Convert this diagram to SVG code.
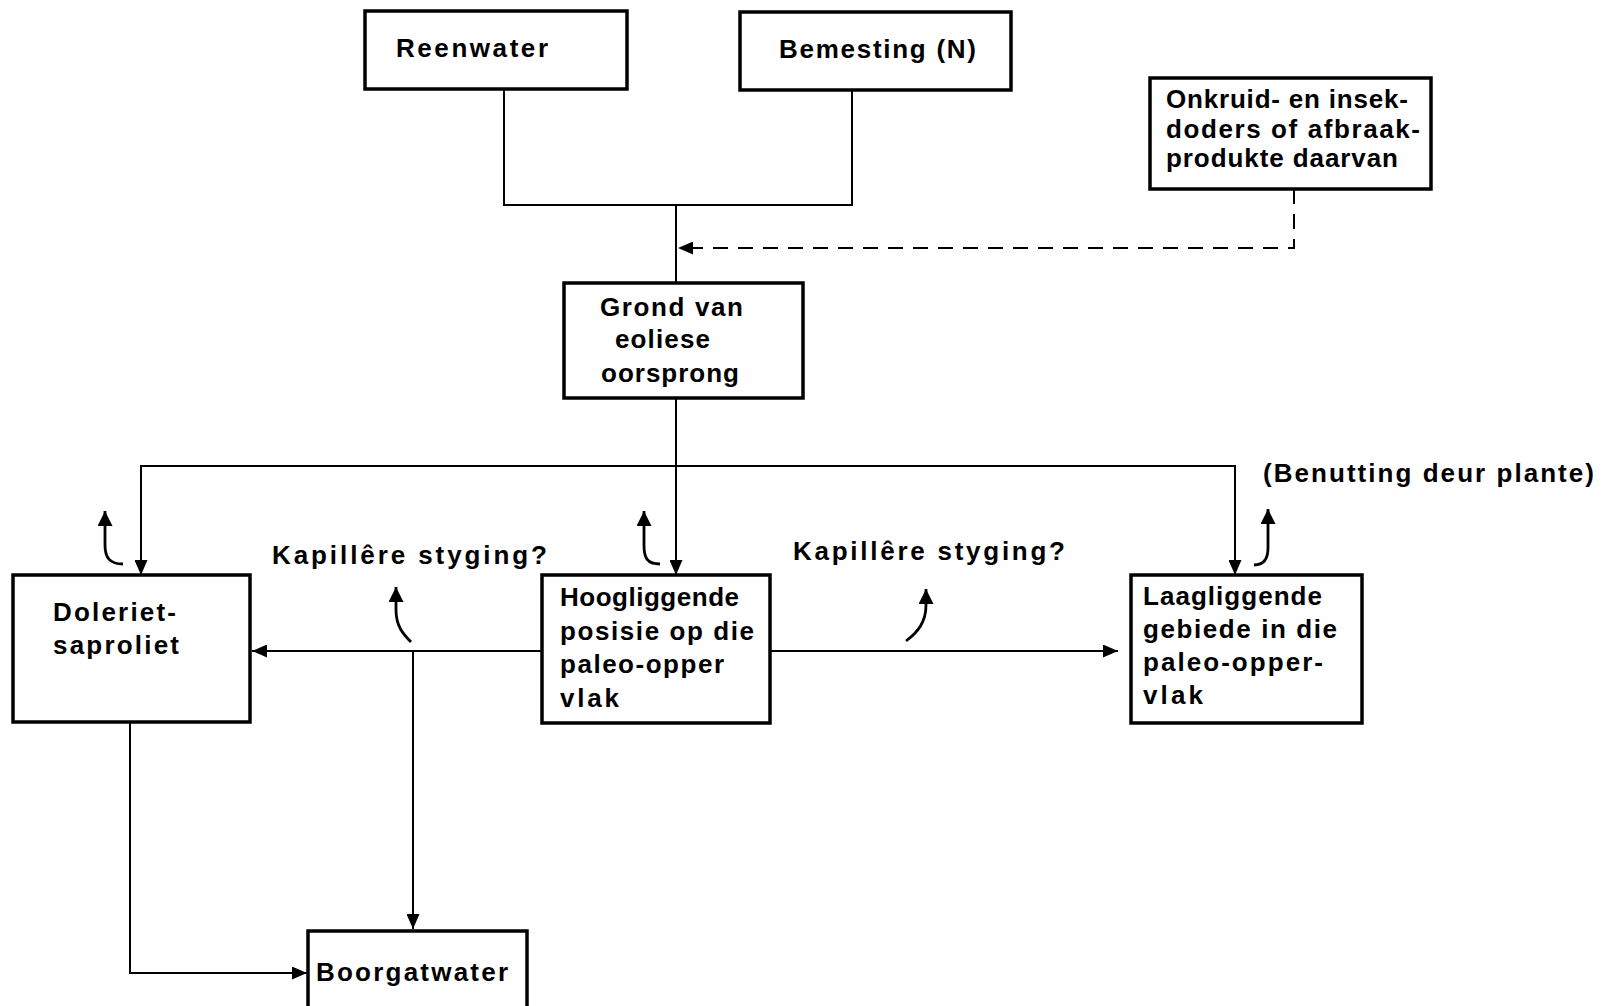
<svg xmlns="http://www.w3.org/2000/svg" width="1602" height="1006" viewBox="0 0 1602 1006">
<style>
.box{fill:#fff;stroke:#000;stroke-width:3.5}
.t{font-family:"Liberation Sans",Arial,sans-serif;font-weight:bold;font-size:26px;fill:#000}
.c{fill:none;stroke:#000;stroke-width:2}
.d{fill:none;stroke:#000;stroke-width:2;stroke-dasharray:15 10}
.k{fill:none;stroke:#000;stroke-width:2.8}
</style>
<defs>
<marker id="ah" viewBox="0 0 15 13" refX="15" refY="6.5" markerWidth="15" markerHeight="13" markerUnits="userSpaceOnUse" orient="auto">
<path d="M0,0 L15,6.5 L0,13 Z" fill="#000"/>
</marker>
<marker id="ak" viewBox="0 0 15 15" refX="15" refY="7.5" markerWidth="15" markerHeight="15" markerUnits="userSpaceOnUse" orient="auto">
<path d="M0,0 L15,7.5 L0,15 Z" fill="#000"/>
</marker>
</defs>
<rect width="1602" height="1006" fill="#fff"/>
<g id="connectors">
<path class="c" d="M504,89 V205 H852 V90"/>
<path class="c" d="M676,205 V283"/>
<path class="d" d="M1294,189 V248 H678" marker-end="url(#ah)"/>
<path class="c" d="M676,398 V575" marker-end="url(#ah)"/>
<path class="c" d="M676,466 H141 V575" marker-end="url(#ah)"/>
<path class="c" d="M676,466 H1235 V575" marker-end="url(#ah)"/>
<path class="c" d="M542,651 H252" marker-end="url(#ah)"/>
<path class="c" d="M413,651 V929" marker-end="url(#ah)"/>
<path class="c" d="M770,651 H1118" marker-end="url(#ah)"/>
<path class="c" d="M130,722 V973 H307" marker-end="url(#ah)"/>
<path class="k" d="M123,564 C110,564 105,558 105,545 V511" marker-end="url(#ak)"/>
<path class="k" d="M660,564 C647,564 644,558 644,545 V511" marker-end="url(#ak)"/>
<path class="k" d="M411,642 C403,634 396,626 396,610 V587" marker-end="url(#ak)"/>
<path class="k" d="M906,641 C918,632 926,622 926,605 V589" marker-end="url(#ak)"/>
<path class="k" d="M1254,565 C1264,565 1268,558 1268,548 V509" marker-end="url(#ak)"/>
</g>
<g id="reenwater">
<rect class="box" x="365" y="11" width="262" height="78"/>
<text class="t" x="396" y="57" textLength="152" lengthAdjust="spacing">Reenwater</text>
</g>
<g id="bemesting">
<rect class="box" x="740" y="12" width="271" height="78"/>
<text class="t" x="779" y="58" textLength="197" lengthAdjust="spacing">Bemesting (N)</text>
</g>
<g id="onkruid">
<rect class="box" x="1150" y="78" width="281" height="111"/>
<text class="t" x="1166" y="108" textLength="242" lengthAdjust="spacing">Onkruid- en insek-</text>
<text class="t" x="1166" y="138" textLength="254" lengthAdjust="spacing">doders of afbraak-</text>
<text class="t" x="1166" y="167" textLength="232" lengthAdjust="spacing">produkte daarvan</text>
</g>
<g id="grond">
<rect class="box" x="564" y="283" width="239" height="115"/>
<text class="t" x="600" y="316" textLength="143" lengthAdjust="spacing">Grond van</text>
<text class="t" x="615" y="348" textLength="95" lengthAdjust="spacing">eoliese</text>
<text class="t" x="601" y="382" textLength="138" lengthAdjust="spacing">oorsprong</text>
</g>
<g id="benutting">
<text class="t" x="1263" y="482" textLength="331" lengthAdjust="spacing">(Benutting deur plante)</text>
</g>
<g id="kapillere-links">
<text class="t" x="272" y="564" textLength="275" lengthAdjust="spacing">Kapillêre styging?</text>
</g>
<g id="kapillere-regs">
<text class="t" x="793" y="560" textLength="272" lengthAdjust="spacing">Kapillêre styging?</text>
</g>
<g id="doleriet">
<rect class="box" x="13" y="575" width="237" height="147"/>
<text class="t" x="53" y="621" textLength="123" lengthAdjust="spacing">Doleriet-</text>
<text class="t" x="53" y="654" textLength="126" lengthAdjust="spacing">saproliet</text>
</g>
<g id="hoogliggende">
<rect class="box" x="542" y="575" width="228" height="148"/>
<text class="t" x="560" y="606" textLength="179" lengthAdjust="spacing">Hoogliggende</text>
<text class="t" x="560" y="640" textLength="194" lengthAdjust="spacing">posisie op die</text>
<text class="t" x="560" y="673" textLength="164" lengthAdjust="spacing">paleo-opper</text>
<text class="t" x="560" y="707" textLength="59" lengthAdjust="spacing">vlak</text>
</g>
<g id="laagliggende">
<rect class="box" x="1131" y="575" width="231" height="148"/>
<text class="t" x="1143" y="605" textLength="179" lengthAdjust="spacing">Laagliggende</text>
<text class="t" x="1143" y="638" textLength="194" lengthAdjust="spacing">gebiede in die</text>
<text class="t" x="1143" y="671" textLength="180" lengthAdjust="spacing">paleo-opper-</text>
<text class="t" x="1143" y="704" textLength="60" lengthAdjust="spacing">vlak</text>
</g>
<g id="boorgatwater">
<rect class="box" x="308" y="931" width="219" height="80"/>
<text class="t" x="316" y="981" textLength="192" lengthAdjust="spacing">Boorgatwater</text>
</g>
</svg>
